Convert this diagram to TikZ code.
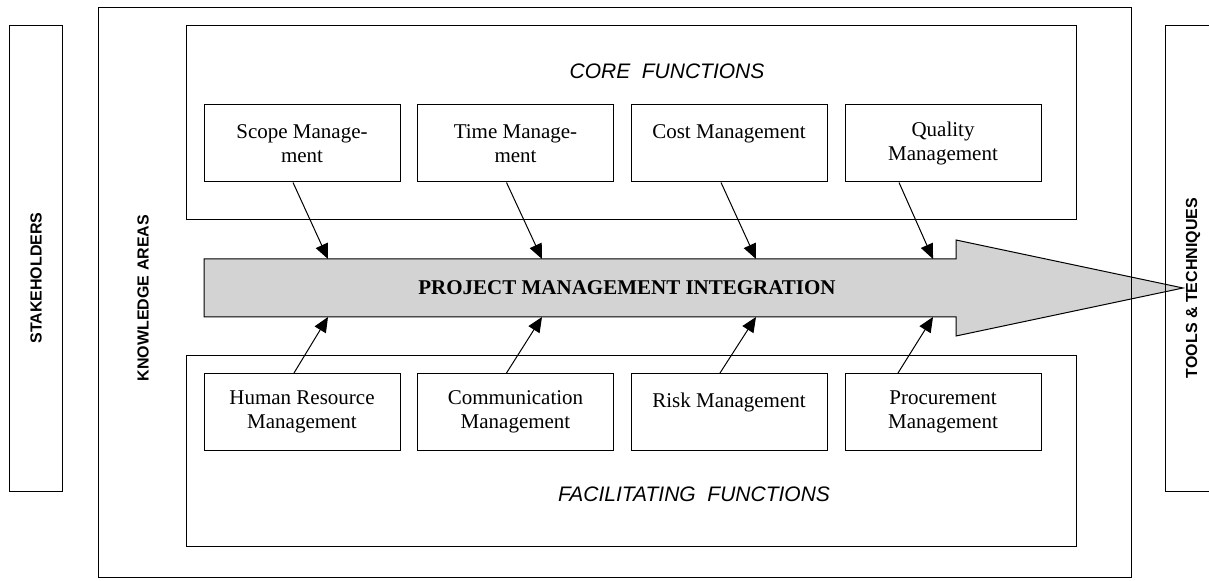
\documentclass[tikz,border=0pt]{standalone}
\usepackage{fontspec}
\setmainfont{Liberation Serif}
\setsansfont{Liberation Sans}
\usetikzlibrary{arrows.meta}
\definecolor{pmgray}{RGB}{211,211,211}

\begin{document}
\begin{tikzpicture}[x=0.5pt,y=-0.5pt,line width=0.5pt,
    flow/.style={-{Triangle[length=7.5pt,width=6.5pt]}}]

        \useasboundingbox (0,0) rectangle (1209,581);
        \clip (0,0) rectangle (1209,581);

        % integration arrow
        \draw[fill=pmgray] (204,259) -- (956,259) -- (956,240) -- (1183,288)
          -- (956,336) -- (956,317) -- (204,317) -- cycle;
        \node[font=\bfseries\fontsize{10.5}{12}\selectfont] (pmi) at (627,288)
          {PROJECT MANAGEMENT INTEGRATION};

        % frames
        \draw (9,26) rectangle (62,492);
        \draw (98,8) rectangle (1131,578);
        \draw (1165,26) rectangle (1240,492);
        \draw (186,26) rectangle (1076,220);
        \draw (186,356) rectangle (1076,547);

        \begin{scope}[every node/.style={draw, align=center, inner sep=0pt,
            minimum width=98pt, minimum height=38.5pt,
            font=\fontsize{10.5}{12}\selectfont}]
          \node (scope)   at (302,143.5)   {Scope Manage-\\ment};
          \node (time)    at (515.5,143.5) {Time Manage-\\ment};
          \node (cost)    at (729,143.5)   {Cost Management\\\mbox{}};
          \node (quality) at (943,143.5)   {Quality\\Management};
          \node (hr)      at (302,412)     {Human Resource\\Management};
          \node (comm)    at (515.5,412)   {Communication\\Management};
          \node (risk)    at (729,412)     {Risk Management\\\mbox{}};
          \node (proc)    at (943,412)     {Procurement\\Management};
        \end{scope}

        \begin{scope}[every node/.style={font=\sffamily\itshape\fontsize{10.5}{12}\selectfont}]
          \node (core) at (667,71)  {CORE\ \ FUNCTIONS};
          \node (fac)  at (694,494) {FACILITATING\ \ FUNCTIONS};
        \end{scope}

        \begin{scope}[every node/.style={rotate=90,
            font=\sffamily\bfseries\fontsize{8}{9.6}\selectfont}]
          \node (stake) at (36,278)   {STAKEHOLDERS};
          \node (know)  at (143,298)  {KNOWLEDGE AREAS};
          \node (tools) at (1193,288) {TOOLS \& TECHNIQUES};
        \end{scope}

        % arrow ends on the integration arrow
        \coordinate (in1) at (328,259);
        \coordinate (in2) at (542,259);
        \coordinate (in3) at (756,259);
        \coordinate (in4) at (933,259);
        \coordinate (up1) at (328,317);
        \coordinate (up2) at (542,317);
        \coordinate (up3) at (756,317);
        \coordinate (up4) at (933,317);

        \begin{scope}[every edge/.style={draw,flow}]
          \path ([xshift=-4.5pt]scope.south)  edge (in1);
          \path ([xshift=-4.5pt]time.south)   edge (in2);
          \path ([xshift=-4pt]cost.south)     edge (in3);
          \path ([xshift=-22pt]quality.south) edge (in4);
          \path ([xshift=-4pt]hr.north)       edge (up1);
          \path ([xshift=-4.5pt]comm.north)   edge (up2);
          \path ([xshift=-4.5pt]risk.north)   edge (up3);
          \path ([xshift=-22.5pt]proc.north)  edge (up4);
        \end{scope}

      \end{tikzpicture}
\end{document}
